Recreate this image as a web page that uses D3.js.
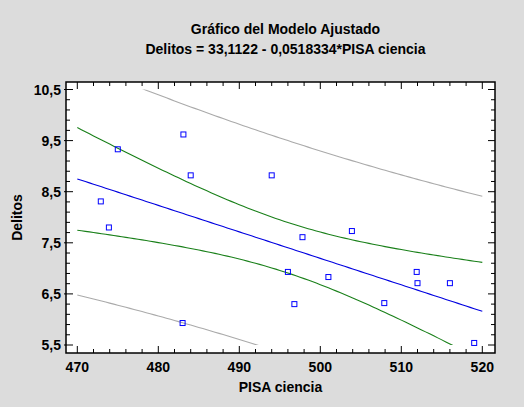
<!DOCTYPE html>
<html><head><meta charset="utf-8">
<script src="https://cdn.jsdelivr.net/npm/d3@7"></script>
<style>body{margin:0;background:#dcdcdc}svg{display:block}</style>
</head><body>
<script>
const pisa = [475.0,483.1,484.0,472.9,473.9,494.0,497.8,503.9,496.0,496.8,501.0,507.9,511.9,512.0,516.0,519.0,483.0];
const delitos = [9.33,9.62,8.82,8.31,7.80,8.82,7.61,7.73,6.93,6.30,6.83,6.32,6.93,6.71,6.71,5.54,5.93];
const intercept = 33.1122, slope = -0.0518334;
const xTicks = [470,480,490,500,510,520];
const yTicks = [5.5,6.5,7.5,8.5,9.5,10.5];

const W=524,H=407, L=66,T=82,R=495,B=353;
const svg=d3.select("body").append("svg").attr("width",W).attr("height",H).style("font-family","Liberation Sans, Arial, sans-serif");
svg.append("rect").attr("width",W).attr("height",H).attr("fill","#dcdcdc");
const x=d3.scaleLinear().domain([470,520]).range([77.3,482.3]);
const y=d3.scaleLinear().domain([5.5,10.5]).range([345,89.5]);
svg.append("rect").attr("x",L).attr("y",T).attr("width",R-L).attr("height",B-T).attr("fill","#fff");

// regression statistics
const n=pisa.length, xbar=d3.mean(pisa);
const Sxx=d3.sum(pisa,v=>(v-xbar)**2);
const sse=d3.sum(pisa.map((v,i)=>(delitos[i]-(intercept+slope*v))**2));
const s=Math.sqrt(sse/(n-2)), t=2.131;
const xs=d3.range(470,520.01,0.5);
const fit=v=>intercept+slope*v;
const conf=v=>t*s*Math.sqrt(1/n+(v-xbar)**2/Sxx);
const pred=v=>t*s*Math.sqrt(1+1/n+(v-xbar)**2/Sxx);

svg.append("clipPath").attr("id","c").append("rect").attr("x",L).attr("y",y(10.5)).attr("width",R-L).attr("height",y(5.5)-y(10.5));
const g=svg.append("g").attr("clip-path","url(#c)");
const line=f=>d3.line().x(v=>x(v)).y(v=>y(f(v)))(xs);
[[v=>fit(v)+pred(v),"#aaaaaa"],[v=>fit(v)-pred(v),"#aaaaaa"],
 [v=>fit(v)+conf(v),"#1a801a"],[v=>fit(v)-conf(v),"#1a801a"],[fit,"#0000e0"]].forEach(([f,c])=>
  g.append("path").attr("d",line(f)).attr("fill","none").attr("stroke",c).attr("stroke-width",1.1));

svg.selectAll("rect.pt").data(pisa).join("rect").attr("class","pt")
 .attr("x",(d,i)=>x(d)-2.5).attr("y",(d,i)=>y(delitos[i])-2.5).attr("width",5).attr("height",5)
 .attr("fill","none").attr("stroke","#0000ff").attr("stroke-width",1);

// axes
const ax=svg.append("g").attr("stroke","#000");
ax.append("rect").attr("x",L).attr("y",T).attr("width",R-L).attr("height",B-T).attr("fill","none").attr("stroke-width",1.5);
d3.range(470,520.01,2).forEach(v=>{const major=xTicks.includes(Math.round(v));const len=major?7:4;
 ax.append("line").attr("x1",x(v)).attr("x2",x(v)).attr("y1",B).attr("y2",B-len);
 ax.append("line").attr("x1",x(v)).attr("x2",x(v)).attr("y1",T).attr("y2",T+len);});
d3.range(5.5,10.51,0.2).forEach(v=>{const major=yTicks.some(k=>Math.abs(k-v)<1e-6);const len=major?7:4;
 ax.append("line").attr("x1",major?L-2:L).attr("x2",L+len).attr("y1",y(v)).attr("y2",y(v));
 ax.append("line").attr("x1",R).attr("x2",R-len).attr("y1",y(v)).attr("y2",y(v));});
svg.selectAll("text.xt").data(xTicks).join("text").attr("x",d=>x(d)).attr("y",372).attr("text-anchor","middle")
 .attr("font-size",14).attr("font-weight","bold").text(d=>d);
svg.selectAll("text.yt").data(yTicks).join("text").attr("x",L-5).attr("y",d=>y(d)+5).attr("text-anchor","end")
 .attr("font-size",14).attr("font-weight","bold").text(d=>String(d).replace(".",","));
svg.append("text").attr("x",(L+R)/2).attr("y",392).attr("text-anchor","middle").attr("font-size",14).attr("font-weight","bold").text("PISA ciencia");
svg.append("text").attr("transform",`translate(22,${(T+B)/2}) rotate(-90)`).attr("text-anchor","middle").attr("font-size",14).attr("font-weight","bold").text("Delitos");
svg.append("text").attr("x",(L+R)/2+5).attr("y",34).attr("text-anchor","middle").attr("font-size",14).attr("font-weight","bold").text("Gráfico del Modelo Ajustado");
svg.append("text").attr("x",(L+R)/2+5).attr("y",54).attr("text-anchor","middle").attr("font-size",14).attr("font-weight","bold").text("Delitos = 33,1122 - 0,0518334*PISA ciencia");
</script></body></html>
